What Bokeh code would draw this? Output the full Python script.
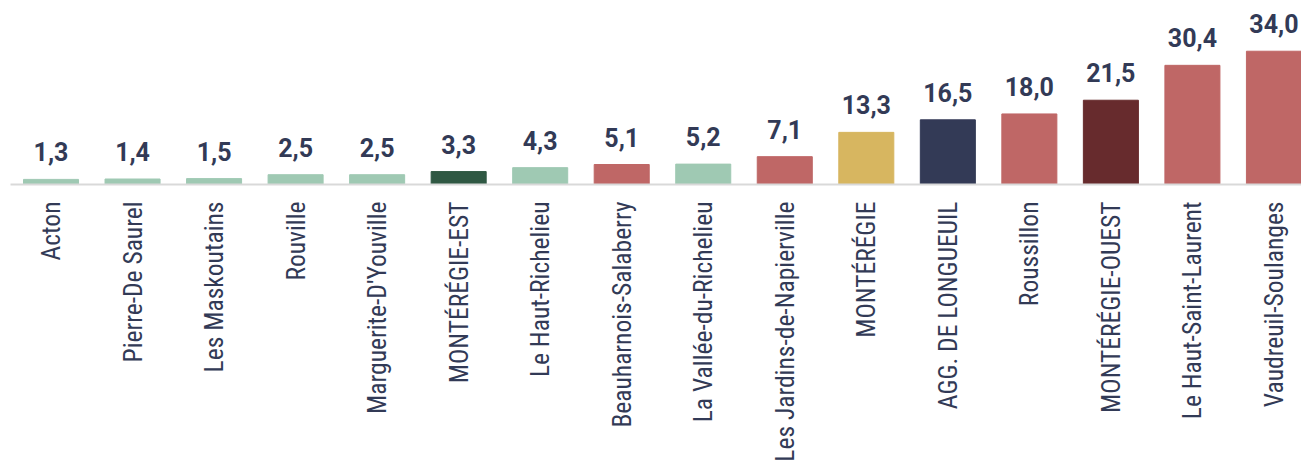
from bokeh.plotting import figure
from bokeh.models import ColumnDataSource, LabelSet, Range1d, FixedTicker
from bokeh.core.properties import value
from bokeh.embed import file_html
from bokeh.resources import INLINE

categories = ["Acton", "Pierre-De Saurel", "Les Maskoutains", "Rouville",
              "Marguerite-D'Youville", "MONTÉRÉGIE-EST", "Le Haut-Richelieu",
              "Beauharnois-Salaberry", "La Vallée-du-Richelieu",
              "Les Jardins-de-Napierville", "MONTÉRÉGIE", "AGG. DE LONGUEUIL",
              "Roussillon", "MONTÉRÉGIE-OUEST", "Le Haut-Saint-Laurent",
              "Vaudreuil-Soulanges"]
values = [1.3, 1.4, 1.5, 2.5, 2.5, 3.3, 4.3, 5.1, 5.2, 7.1, 13.3, 16.5, 18.0, 21.5, 30.4, 34.0]
groups = ["est", "est", "est", "est", "est", "est_total", "est", "ouest", "est",
          "ouest", "region", "longueuil", "ouest", "ouest_total", "ouest", "ouest"]

palette = {"est": "#9FC9B3", "est_total": "#2F5843", "ouest": "#BF6766",
           "region": "#D7B660", "longueuil": "#333A56", "ouest_total": "#672B2D"}
text_color = "#323A56"

idx = list(range(len(categories)))
source = ColumnDataSource(dict(
    x=idx,
    top=values,
    color=[palette[g] for g in groups],
    label=[f"{v:.1f}".replace(".", ",") for v in values],
))

p = figure(width=1301, height=464,
           x_range=Range1d(-0.497, 15.338), y_range=Range1d(0, 46.94),
           output_backend="svg", toolbar_location=None,
           min_border_left=10, min_border_right=0, min_border_top=0,
           min_border_bottom=280)

p.vbar(x="x", top="top", bottom=0, width=0.675, color="color", source=source)

labels = LabelSet(x="x", y="top", text="label", source=source,
                  text_align="center", text_baseline="alphabetic", y_offset=18,
                  text_font=value("Roboto"), text_font_style="bold",
                  text_font_size="25px", text_color=text_color)
p.add_layout(labels)

p.yaxis.visible = False
p.xaxis.ticker = FixedTicker(ticks=idx)
p.xaxis.major_label_overrides = {i: c for i, c in enumerate(categories)}
p.xaxis.major_label_orientation = 1.5707963
p.xaxis.major_tick_line_color = None
p.xaxis.minor_tick_line_color = None
p.xaxis.major_tick_out = 0
p.xaxis.major_tick_in = 0
p.xaxis.major_label_standoff = 17
p.xaxis.axis_line_color = "#D9D9D9"
p.xaxis.axis_line_width = 2
p.xaxis.major_label_text_font = "Roboto Condensed"
p.xaxis.major_label_text_font_size = "25.5px"
p.xaxis.major_label_text_color = text_color

p.xgrid.visible = False
p.ygrid.visible = False
p.outline_line_color = None
p.background_fill_color = "white"
p.border_fill_color = "white"

open("out.html", "w").write(file_html(p, INLINE))
